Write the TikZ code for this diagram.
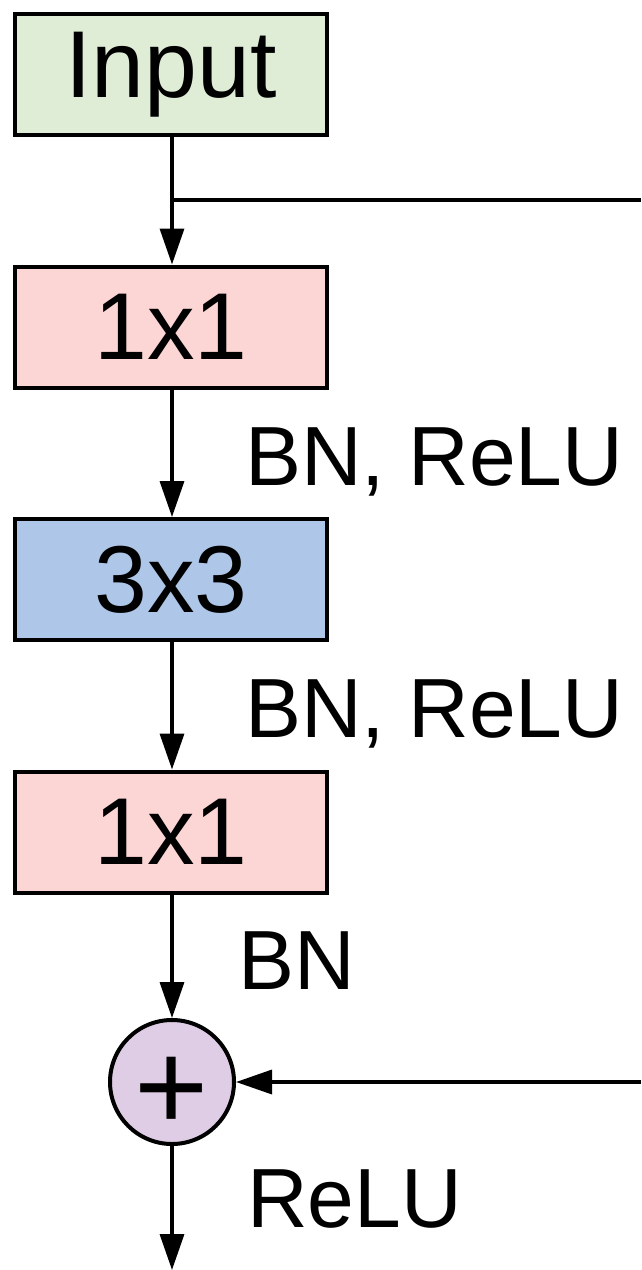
\documentclass[tikz,border=0pt]{standalone}
\usepackage{fontspec}
\setmainfont{Liberation Sans}
\usetikzlibrary{arrows.meta}
\usetikzlibrary{positioning}
\definecolor{ingreen}{RGB}{223,237,214}
\definecolor{convred}{RGB}{252,214,213}
\definecolor{convblue}{RGB}{174,198,232}
\definecolor{addpurple}{RGB}{222,205,228}
\tikzset{layer/.style = {draw, line width = 4pt, minimum width = 312pt, minimum height = 121pt, inner sep = 0pt, font = \fontsize{95}{100}\selectfont}}
\tikzset{lbl/.style = {anchor = base west, inner sep = 0pt, font = \fontsize{84}{90}\selectfont}}
\tikzset{conn/.style = {line width = 3.5pt, -{Triangle[length = 36pt, width = 24pt]}}}

\begin{document}
\begin{tikzpicture}[x = 1pt, y = -1pt]
  \useasboundingbox (0, 0) rectangle (641, 1270);

  \node [layer, fill = ingreen] (input) at (171, 74.5) {Input};
  \node [layer, fill = convred, below = 127.5pt of input] (reduce) {1x1};
  \node [layer, fill = convblue, below = 127.5pt of reduce] (conv) {3x3};
  \node [layer, fill = convred, below = 127.5pt of conv] (expand) {1x1};
  \node [draw, circle, line width = 4pt, minimum size = 124pt, inner sep = 0pt, fill = addpurple, text height = 96pt, text depth = 0pt, font = \fontsize{127}{130}\selectfont] (add) at (172, 1082) {+};

  % shortcut branch
  \coordinate (split) at (172, 200);
  \coordinate (skipin) at (641, 200);
  \coordinate (skipout) at (641, 1082);
  \coordinate (out) at (172, 1270);

  \draw [conn] (input.south -| split) -- (reduce.north -| split);
  \draw [line width = 3.5pt] (split) -- (skipin);
  \draw [conn] (reduce.south -| split) -- (conv.north -| split);
  \draw [conn] (conv.south -| split) -- (expand.north -| split);
  \draw [conn] (expand.south -| split) -- (add.north);
  \draw [conn] (skipout) -- (add.east);
  \draw [conn] (add.south) -- (out);

  \node [lbl] (act1) at (245, 485) {BN, ReLU};
  \node [lbl] (act2) at (245, 737.5) {BN, ReLU};
  \node [lbl] (bn) at (238, 989) {BN};
  \node [lbl] (act3) at (247, 1227) {ReLU};
\end{tikzpicture}
\end{document}
